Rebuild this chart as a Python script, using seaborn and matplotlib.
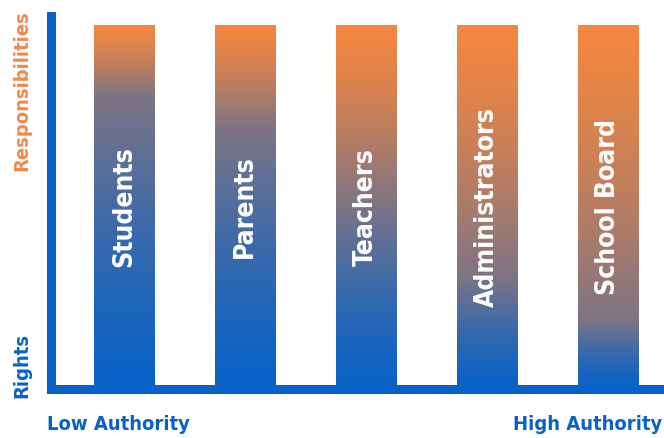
import numpy as np
import pandas as pd
import matplotlib
matplotlib.use("Agg")
import matplotlib.pyplot as plt
from matplotlib import font_manager as fm
from matplotlib.colors import LinearSegmentedColormap
import seaborn as sns

sns.set_style("white")

# look for a narrow bold face, the original uses a condensed sans
font_path = None
for key in ["LiberationSansNarrow-Bold", "DejaVuSansCondensed-Bold", "RobotoCondensed-Bold",
            "OpenSansCondensed-Bold", "OpenSans_Condensed-Bold", "Condensed-Bold", "Narrow-Bold"]:
    hits = [f.fname for f in fm.fontManager.ttflist if key.lower() in f.fname.lower().replace(" ", "")]
    if hits:
        font_path = sorted(hits)[0]
        break
if font_path:
    fp = dict(fontproperties=fm.FontProperties(fname=font_path))
    bold = {}
else:
    fp = {}
    bold = dict(fontweight="bold")

groups = ["Students", "Parents", "Teachers", "Administrators", "School Board"]
bar_height = [1.0, 1.0, 1.0, 1.0, 1.0]
# point where the bar turns from rights (blue) to responsibilities (orange), share of bar from the bottom
balance = [0.81, 0.72, 0.51, 0.31, 0.19]

orange = "#F5873F"
blue = "#0862C8"

df = pd.DataFrame({"group": groups, "height": bar_height, "balance": balance})

fig = plt.figure(figsize=(6.64, 4.38), dpi=100)
ax = fig.add_axes([51 / 664, 49 / 438, 611 / 664, 373 / 438])

sns.barplot(data=df, x="group", y="height", width=0.5, color="white", ax=ax)

# blue at 0, orange at 1
cmap = LinearSegmentedColormap.from_list("rights_resp", [blue, orange])
ys = np.linspace(0, 1, 400)
k = 4.0
sig = lambda v: 1 / (1 + np.exp(-v))
for patch, mid in zip(ax.patches, df["balance"]):
    x0, y0 = patch.get_x(), patch.get_y()
    w, h = patch.get_width(), patch.get_height()
    z = np.where(ys >= mid, 0.5 + 0.5 * (ys - mid) / (1 - mid), 0.5 * ys / mid)
    t = (sig(k * (z - 0.5)) - sig(-k / 2)) / (sig(k / 2) - sig(-k / 2))
    img = ax.imshow(t[:, None], cmap=cmap, vmin=0, vmax=1, origin="lower",
                    aspect="auto", extent=[x0, x0 + w, y0, y0 + h], zorder=2)
    img.set_clip_path(patch)
    patch.set_edgecolor("none")

for i, g in enumerate(groups):
    ax.text(i, 0.5, g, rotation=90, ha="center", va="center", color="white",
            fontsize=19, zorder=3, **fp, **bold)

ax.set_xlim(-0.603, 4.446)
ax.set_ylim(0, 1.025)
ax.set_xticks([])
ax.set_yticks([])
ax.set_xlabel("")
ax.set_ylabel("")
for s in ["top", "right"]:
    ax.spines[s].set_visible(False)
for s in ["left", "bottom"]:
    ax.spines[s].set_color(blue)
    ax.spines[s].set_linewidth(6.5)
    ax.spines[s].set_capstyle("projecting")

lab = dict(fontsize=14.5, **fp, **bold)
fig.text(22 / 664, 1 - 10 / 438, "Responsibilities", rotation=90, ha="center", va="top",
         color="#F08A4B", **lab)
fig.text(22 / 664, 40 / 438, "Rights", rotation=90, ha="center", va="bottom",
         color=blue, **lab)
fig.text(47 / 664, 14 / 438, "Low Authority", ha="left", va="center", color=blue, **lab)
fig.text(662 / 664, 14 / 438, "High Authority", ha="right", va="center", color=blue, **lab)

fig.savefig("out.png", dpi=100, facecolor="white")
